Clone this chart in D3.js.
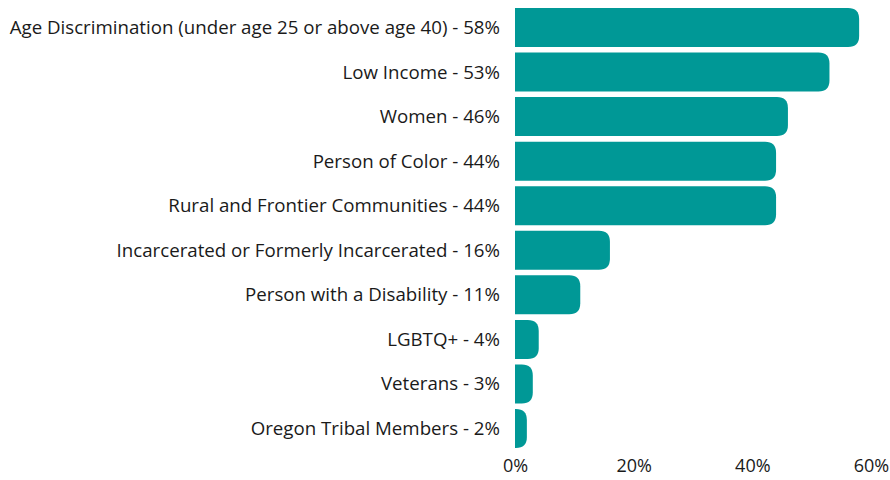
<!DOCTYPE html>
<html>
<head>
<meta charset="utf-8">
<script src="https://cdn.jsdelivr.net/npm/d3@7"></script>
<style>
  body { margin: 0; background: #fff; }
  text { font-family: "Open Sans", sans-serif; fill: #1a1a1a; }
</style>
</head>
<body>
<svg></svg>
<script>
const categories = [
    "Age Discrimination (under age 25 or above age 40)",
    "Low Income",
    "Women",
    "Person of Color",
    "Rural and Frontier Communities",
    "Incarcerated or Formerly Incarcerated",
    "Person with a Disability",
    "LGBTQ+",
    "Veterans",
    "Oregon Tribal Members"
];
const values = [58, 53, 46, 44, 44, 16, 11, 4, 3, 2];
const tickValues = [0, 20, 40, 60];

const data = categories.map((c, i) => ({ name: c, value: values[i] }));

const width = 890, height = 480;

const svg = d3.select("svg")
    .attr("width", width)
    .attr("height", height);

const x = d3.scaleLinear()
    .domain([0, 60])
    .range([515, 871]);

const y = d3.scaleBand()
    .domain(categories)
    .range([8, 448])
    .paddingInner(0.125)
    .paddingOuter(0);

// bar with only the right side rounded
function barPath(d) {
    const x0 = x(0), x1 = x(d.value);
    const y0 = y(d.name), h = y.bandwidth();
    const w = x1 - x0;
    const rx = Math.min(11, w), ry = Math.min(11, h / 2);
    return `M${x0},${y0}H${x1 - rx}` +
        `Q${x1},${y0} ${x1},${y0 + ry}` +
        `V${y0 + h - ry}` +
        `Q${x1},${y0 + h} ${x1 - rx},${y0 + h}` +
        `H${x0}Z`;
}

svg.append("g")
    .selectAll("path")
    .data(data)
    .enter()
    .append("path")
    .attr("d", barPath)
    .attr("fill", "#009896");

svg.append("g")
    .selectAll("text")
    .data(data)
    .enter()
    .append("text")
    .attr("x", x(0) - 15)
    .attr("y", d => y(d.name) + y.bandwidth() / 2)
    .attr("dy", "0.35em")
    .style("text-anchor", "end")
    .style("font-size", "18.7px")
    .text(d => `${d.name} - ${d.value}%`);

const axis = svg.append("g")
    .attr("transform", `translate(0,466)`)
    .call(d3.axisBottom(x).tickValues(tickValues).tickFormat(d => d + "%").tickSize(0));
axis.select(".domain").remove();
axis.selectAll("text")
    .style("font-family", "'Open Sans', sans-serif")
    .style("font-size", "18px")
    .style("fill", "#1a1a1a")
    .attr("dy", "0.35em")
    .attr("y", 0);
</script>
</body>
</html>
